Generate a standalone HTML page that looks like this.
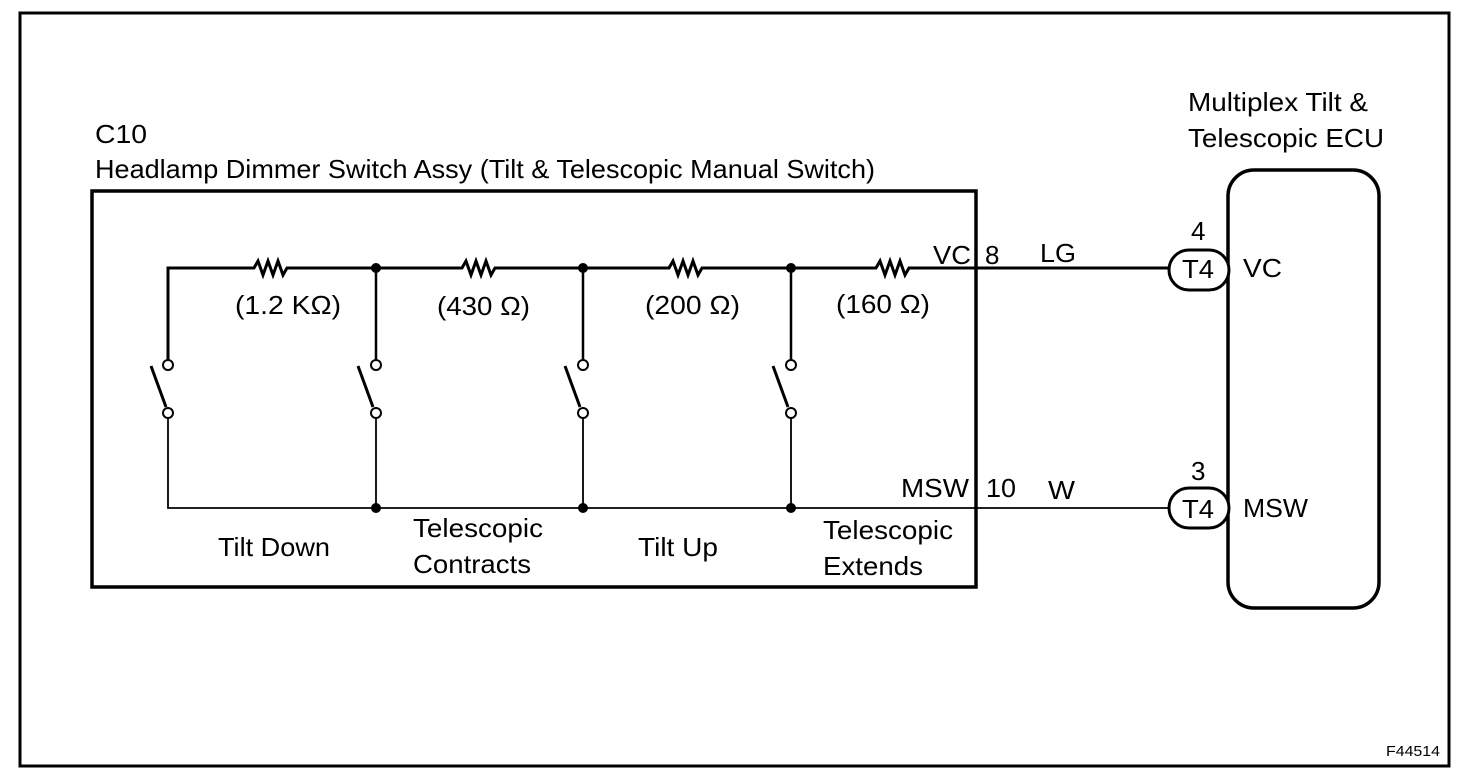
<!DOCTYPE html>
<html><head><style>body{margin:0;background:#fff}svg{display:block}</style></head><body>
<svg width="1472" height="782" viewBox="0 0 1472 782" xmlns="http://www.w3.org/2000/svg" font-family="Liberation Sans, Arial, sans-serif" font-size="26" fill="#000">
<rect x="20" y="13" width="1429" height="753" fill="none" stroke="#000" stroke-width="3"/>
<rect x="92" y="191" width="884" height="396" fill="none" stroke="#000" stroke-width="3.5"/>
<rect x="1228" y="170" width="151" height="438" rx="26" fill="none" stroke="#000" stroke-width="3.5"/>
<g stroke="#000" fill="none">
<path d="M168 365 V268 H254 l4 -7 l5 14 l5 -14 l5 14 l5 -14 l5 14 l4 -7 H462 l4 -7 l5 14 l5 -14 l5 14 l5 -14 l5 14 l4 -7 H669 l4 -7 l5 14 l5 -14 l5 14 l5 -14 l5 14 l4 -7 H876 l4 -7 l5 14 l5 -14 l5 14 l5 -14 l5 14 l4 -7 H1170" stroke-width="3"/>
<path d="M376 268 V360 M583 268 V360 M791 268 V360" stroke-width="2.5"/>
<path d="M168 418 V508 H1170 M376 418 V508 M583 418 V508 M791 418 V508" stroke-width="1.8"/>
<path d="M151 366 L166 407 M358 366 L373 407 M565 366 L580 407 M773 366 L788 407" stroke-width="3"/>
<g stroke-width="2" fill="#fff">
<circle cx="168" cy="365" r="5"/><circle cx="168" cy="413" r="5"/>
<circle cx="376" cy="365" r="5"/><circle cx="376" cy="413" r="5"/>
<circle cx="583" cy="365" r="5"/><circle cx="583" cy="413" r="5"/>
<circle cx="791" cy="365" r="5"/><circle cx="791" cy="413" r="5"/>
</g>
<rect x="1169" y="250" width="60" height="40" rx="20" stroke-width="3" fill="#fff"/>
<rect x="1169" y="488" width="60" height="40" rx="20" stroke-width="3" fill="#fff"/>
</g>
<g fill="#000">
<circle cx="376" cy="268" r="5"/><circle cx="583" cy="268" r="5"/><circle cx="791" cy="268" r="5"/>
<circle cx="376" cy="508" r="5"/><circle cx="583" cy="508" r="5"/><circle cx="791" cy="508" r="5"/>
</g>
<text x="95" y="143" textLength="52" lengthAdjust="spacingAndGlyphs">C10</text>
<text x="95" y="178" textLength="780" lengthAdjust="spacingAndGlyphs">Headlamp Dimmer Switch Assy (Tilt &amp; Telescopic Manual Switch)</text>
<text x="1188" y="111" textLength="180" lengthAdjust="spacingAndGlyphs">Multiplex Tilt &amp;</text>
<text x="1188" y="147" textLength="196" lengthAdjust="spacingAndGlyphs">Telescopic ECU</text>
<text x="235" y="314" textLength="106" lengthAdjust="spacingAndGlyphs">(1.2 KΩ)</text>
<text x="437" y="315" textLength="93" lengthAdjust="spacingAndGlyphs">(430 Ω)</text>
<text x="645" y="314" textLength="95" lengthAdjust="spacingAndGlyphs">(200 Ω)</text>
<text x="836" y="313" textLength="94" lengthAdjust="spacingAndGlyphs">(160 Ω)</text>
<text x="933" y="264" textLength="38" lengthAdjust="spacingAndGlyphs">VC</text>
<text x="985" y="264">8</text>
<text x="1040" y="262" textLength="36" lengthAdjust="spacingAndGlyphs">LG</text>
<text x="901" y="497" textLength="68" lengthAdjust="spacingAndGlyphs">MSW</text>
<text x="986" y="497" textLength="30" lengthAdjust="spacingAndGlyphs">10</text>
<text x="1048" y="499" textLength="27" lengthAdjust="spacingAndGlyphs">W</text>
<text x="1191" y="240">4</text>
<text x="1191" y="480">3</text>
<text x="1182" y="278" textLength="32" lengthAdjust="spacingAndGlyphs">T4</text>
<text x="1182" y="518" textLength="32" lengthAdjust="spacingAndGlyphs">T4</text>
<text x="1243" y="277" textLength="39" lengthAdjust="spacingAndGlyphs">VC</text>
<text x="1243" y="517" textLength="65" lengthAdjust="spacingAndGlyphs">MSW</text>
<text x="218" y="556" textLength="112" lengthAdjust="spacingAndGlyphs">Tilt Down</text>
<text x="413" y="537" textLength="130" lengthAdjust="spacingAndGlyphs">Telescopic</text>
<text x="413" y="573" textLength="118" lengthAdjust="spacingAndGlyphs">Contracts</text>
<text x="638" y="556" textLength="80" lengthAdjust="spacingAndGlyphs">Tilt Up</text>
<text x="823" y="539" textLength="130" lengthAdjust="spacingAndGlyphs">Telescopic</text>
<text x="823" y="575" textLength="100" lengthAdjust="spacingAndGlyphs">Extends</text>
<text x="1386" y="756" font-size="15" textLength="54" lengthAdjust="spacingAndGlyphs">F44514</text>
</svg>
</body></html>
